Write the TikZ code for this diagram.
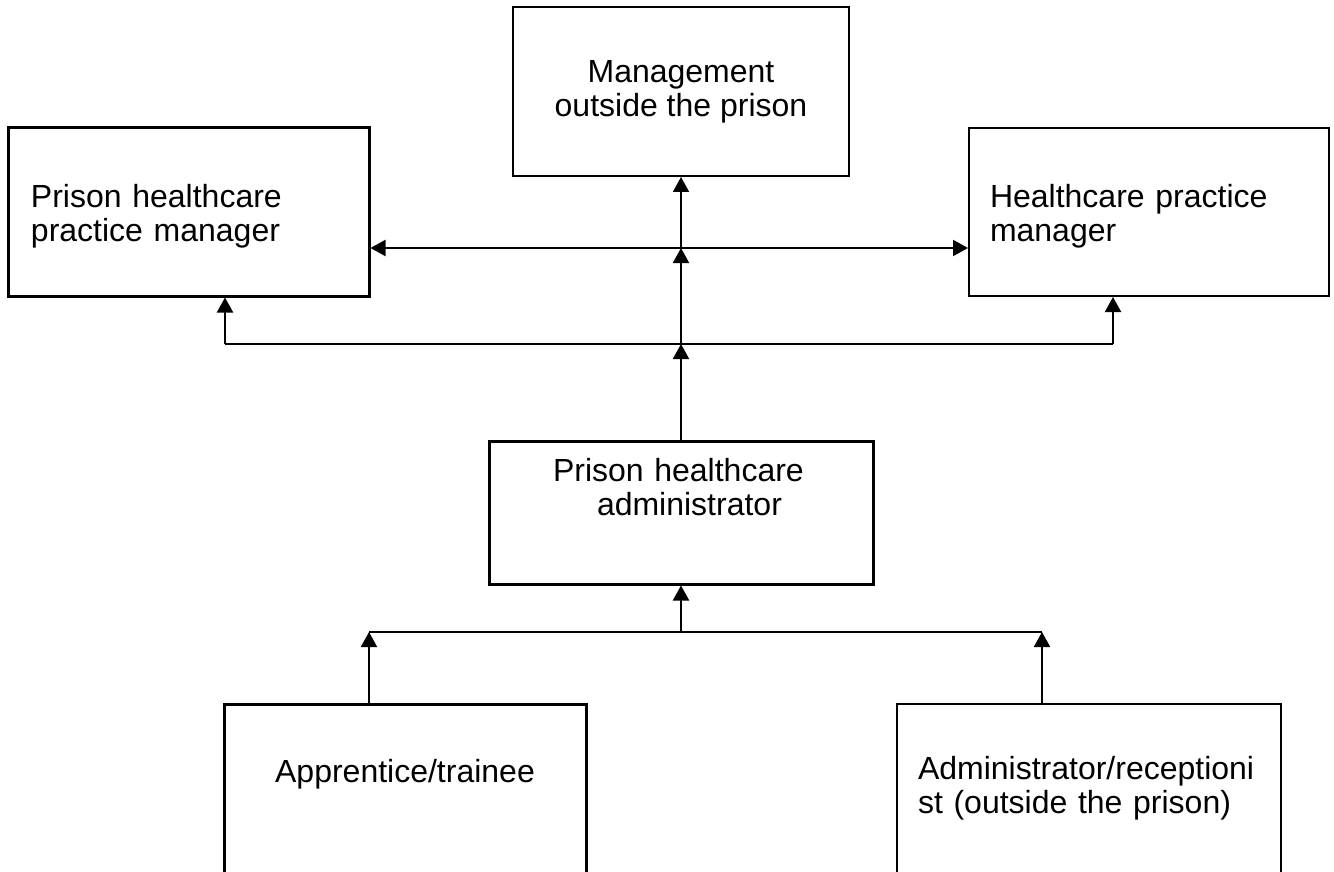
\documentclass[tikz,border=0pt]{standalone}
\usepackage{fontspec}
\setmainfont{Liberation Sans}
\usetikzlibrary{arrows.meta}

\begin{document}
\begin{tikzpicture}[x=0.5pt,y=-0.5pt,
  font=\fontsize{16pt}{17pt}\selectfont,
  >={Triangle[length=7.5pt,width=8pt]},
  box/.style={draw,rectangle,line width=1pt,inner sep=0pt},
  heavybox/.style={box,line width=1.5pt},
  link/.style={line width=1pt}]

\useasboundingbox (0,0) rectangle (1334,872);

\begin{scope} % management level
  \node[box,minimum width=168pt,minimum height=84.5pt,align=center]
    (mgmt) at (681,91.5) {Management\\outside the prison};
  \node[heavybox,minimum width=180.5pt,minimum height=84pt,
    text width=157.5pt,align=left,text depth=16.5pt] (prisonpm) at (188.5,212)
    {Prison healthcare\\practice manager};
  \node[box,minimum width=180pt,minimum height=84pt,
    text width=159pt,align=left,text depth=16.5pt] (practicepm) at (1149,212)
    {Healthcare practice\\manager};
\end{scope}

\begin{scope} % administrator level
  \node[heavybox,minimum width=192pt,minimum height=71.5pt,
    text width=128pt,align=left,text depth=43pt] (admin) at (681,512.5)
    {Prison healthcare\\\hspace*{22pt}administrator};
\end{scope}

\begin{scope} % staff level
  \node[heavybox,minimum width=181pt,minimum height=84.5pt,
    text depth=18pt] (trainee) at (405,788.5) {Apprentice/trainee};
  \node[box,minimum width=192pt,minimum height=84.5pt,
    text width=171pt,align=left] (recep) at (1089,788.5)
    {Administrator/receptioni\\st (outside the prison)};
\end{scope}

\begin{scope}[link] % reporting lines
  \coordinate (upper) at (681,248);
  \coordinate (middle) at (681,344);
  \coordinate (lower) at (681,632);
  \coordinate (leftup) at (225,344);
  \coordinate (rightup) at (1113,344);
  \coordinate (leftlow) at (369,632);
  \coordinate (rightlow) at (1042,632);

  \draw[->] (admin) -- (middle);
  \draw (leftup) -- (rightup);
  \draw[->] (leftup) -- (leftup |- prisonpm.south);
  \draw[->] (rightup) -- (rightup |- practicepm.south);
  \draw[->] (middle) -- (upper);
  \draw[<->] (upper -| prisonpm.east) -- (upper -| practicepm.west);
  \draw[->] (upper) -- (mgmt);

  \draw (leftlow) -- (rightlow);
  \draw[->] (lower) -- (admin);
  \draw[->] (trainee.north -| leftlow) -- (leftlow);
  \draw[->] (recep.north -| rightlow) -- (rightlow);
\end{scope}

\end{tikzpicture}
\end{document}
